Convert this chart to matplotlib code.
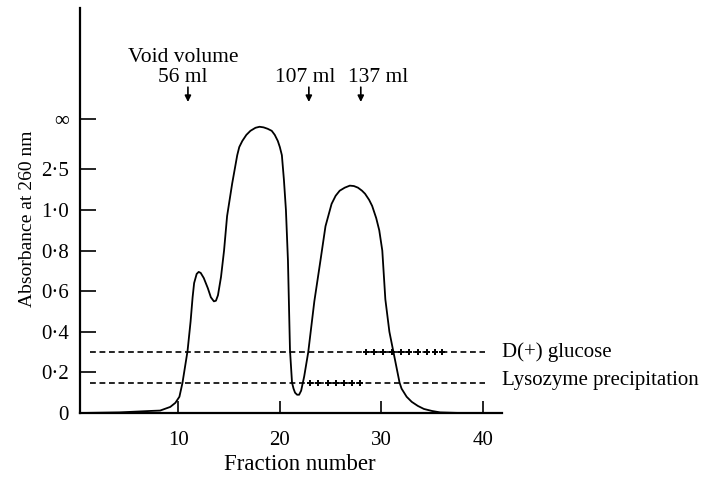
import matplotlib
matplotlib.use("Agg")
import matplotlib.pyplot as plt

plt.rcParams['font.family'] = ['Liberation Serif', 'DejaVu Serif']

# elution profile (y in chart units: 1.2 = "2.5", 1.45 = "inf")
fraction = [0.3, 4.2, 7.2, 8.2, 9.2, 9.7, 10.1, 10.4, 10.9, 11.2, 11.4, 11.55, 11.8,
            12.0, 12.2, 12.5, 12.9, 13.2, 13.5, 13.7, 13.9, 14.2, 14.5, 14.8, 15.3,
            15.8, 16.0, 16.3, 16.7, 17.1, 17.6, 18.0, 18.4, 18.8, 19.2, 19.5, 19.8,
            20.0, 20.2, 20.4, 20.6, 20.8, 21.0, 21.2, 21.35, 21.5, 21.7, 21.9, 22.1,
            22.4, 22.8, 23.4, 24.0, 24.5, 25.1, 25.5, 25.9, 26.4, 26.9, 27.3, 27.7,
            28.1, 28.4, 28.8, 29.1, 29.5, 29.8, 30.1, 30.4, 30.8, 31.2, 31.8, 32.0,
            32.5, 33.0, 33.6, 34.2, 35.0, 35.8, 37.8]
absorb = [0.0, 0.003, 0.01, 0.012, 0.03, 0.05, 0.08, 0.148, 0.305, 0.45, 0.57, 0.64,
          0.685, 0.695, 0.69, 0.665, 0.615, 0.57, 0.55, 0.553, 0.58, 0.67, 0.80, 0.97,
          1.13, 1.27, 1.31, 1.34, 1.37, 1.39, 1.405, 1.41, 1.407, 1.40, 1.39, 1.37,
          1.34, 1.31, 1.27, 1.15, 1.0, 0.75, 0.31, 0.15, 0.12, 0.10, 0.09, 0.09, 0.11,
          0.18, 0.30, 0.55, 0.75, 0.92, 1.03, 1.07, 1.095, 1.11, 1.12, 1.118, 1.11,
          1.095, 1.08, 1.05, 1.02, 0.96, 0.90, 0.80, 0.56, 0.40, 0.30, 0.15, 0.12,
          0.08, 0.055, 0.035, 0.02, 0.01, 0.003, 0.0]

ytick_pos = [0, 0.2, 0.4, 0.6, 0.8, 1.0, 1.2, 1.45]
ytick_lab = ['0', '0·2', '0·4', '0·6', '0·8', '1·0', '2·5', '∞']
xtick_pos = [10, 20, 30, 40]

# reference levels
glucose_level = 0.30
lysozyme_level = 0.15
line_range = [1.3, 40.2]
glucose_plus = [28.5, 29.3, 30.2, 31.1, 31.9, 32.7, 33.6, 34.5, 35.3, 36.0]
lysozyme_plus = [23.0, 23.8, 24.7, 25.5, 26.3, 27.1, 27.9]

# volume markers
markers = [(10.94, 'Void volume\n56 ml', 10.44), (22.86, '107 ml', 22.46), (27.98, '137 ml', 29.65)]

fig = plt.figure(figsize=(7.12, 4.82), dpi=100)
ax = fig.add_axes([80/712, 69/482, 422/712, 405/482])

ax.plot(fraction, absorb, color='black', lw=1.3)

for lev, xs in [(glucose_level, glucose_plus), (lysozyme_level, lysozyme_plus)]:
    ax.plot(line_range, [lev, lev], color='black', lw=1.2, dashes=(3.5, 2.2))
    ax.plot(xs, [lev]*len(xs), ls='none', marker='+', ms=5, mew=1.4, color='black')

ax.text(41.9, glucose_level, 'D(+) glucose', fontsize=15, va='center', ha='left')
ax.text(41.9, lysozyme_level + 0.012, 'Lysozyme precipitation', fontsize=15, va='center', ha='left')

for xa, lab, xt in markers:
    ax.annotate('', xy=(xa, 1.532), xytext=(xa, 1.605),
                arrowprops=dict(arrowstyle='-|>', color='black', lw=1.2, mutation_scale=9,
                                shrinkA=0, shrinkB=0))
    ax.text(xt, 1.63, lab, fontsize=15.5, ha='center', va='baseline', linespacing=1.05)

ax.set_xlim(0.3, 41.9)
ax.set_ylim(0, 1.995)
ax.set_xticks(xtick_pos)
ax.set_yticks(ytick_pos)
ax.set_yticklabels(ytick_lab)
ax.tick_params(axis='both', direction='in', width=1.2, labelsize=15)
ax.tick_params(axis='y', length=11.5, pad=8)
ax.tick_params(axis='x', length=8.5, pad=13)
for s in ['top', 'right']:
    ax.spines[s].set_visible(False)
for s in ['left', 'bottom']:
    ax.spines[s].set_linewidth(1.6)

ax.set_xlabel('Fraction number', fontsize=16.5)
ax.xaxis.set_label_coords(0.521, -0.1)
ax.set_ylabel('Absorbance at 260 nm', fontsize=14)
ax.yaxis.set_label_coords(-0.105, 0.48)

fig.savefig('out.png', dpi=100)
